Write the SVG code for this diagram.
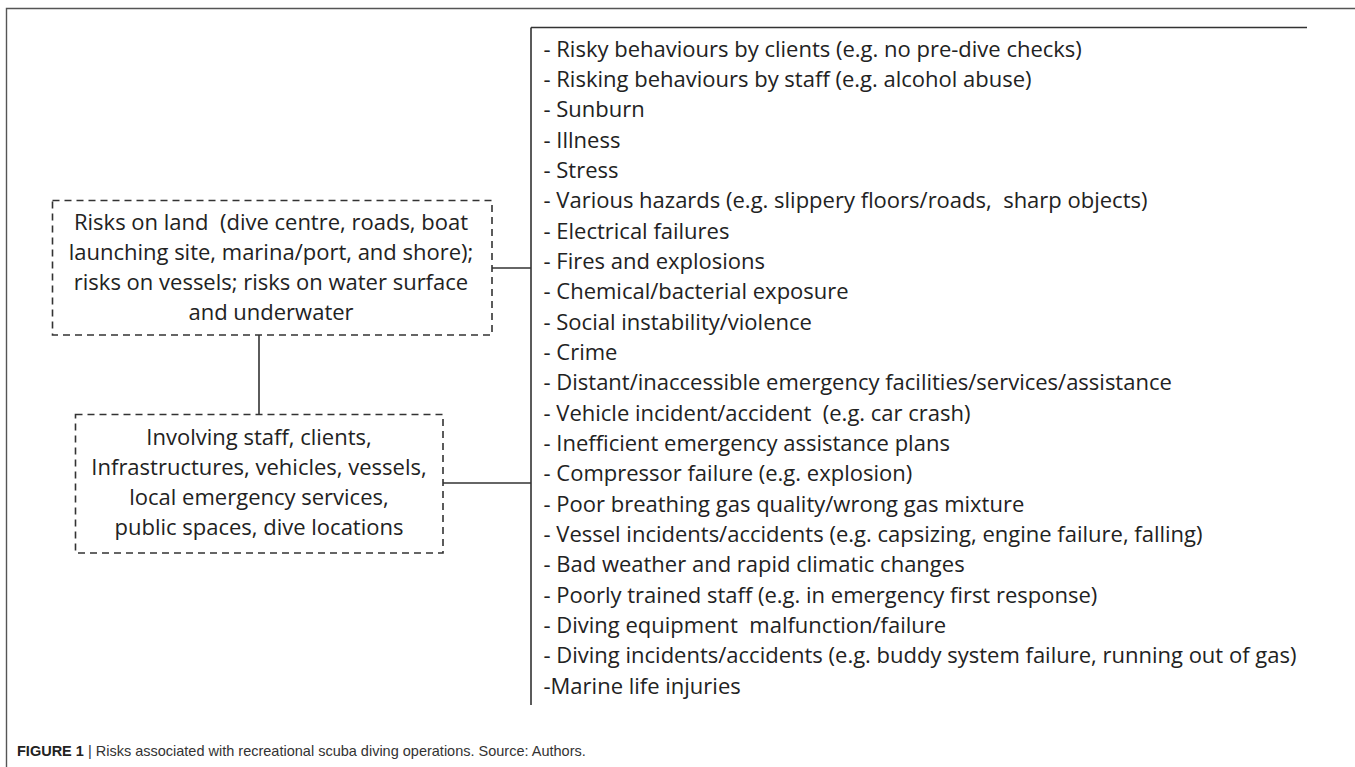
<svg xmlns="http://www.w3.org/2000/svg" width="1355" height="767" viewBox="0 0 1355 767">
  <style>
    .frame { fill: none; stroke: #555; stroke-width: 1.4; }
    .line { fill: none; stroke: #333; stroke-width: 1.6; }
    .box { fill: #fff; stroke: #333; stroke-width: 1.6; stroke-dasharray: 7 5; }
    .t { font-family: "Open Sans", Lato, sans-serif; font-size: 22px; fill: #222; white-space: pre; }
    .c { text-anchor: middle; }
    .cap { font-family: "Liberation Sans Narrow", "Liberation Sans", sans-serif; font-size: 14.5px; fill: #333; }
    .capb { font-weight: bold; fill: #222; }
  </style>
  <rect width="1355" height="767" fill="#fff"/>

  <!-- figure frame (open to the right and bottom) -->
  <path class="frame" d="M6.5 767 V8.5 H1355"/>

  <!-- connectors -->
  <g id="connectors">
    <path class="line" d="M531 27.5 H1307 M531 27.5 V705"/>
    <path class="line" d="M492 268 H531"/>
    <path class="line" d="M443 483 H531"/>
    <path class="line" d="M259 335 V414"/>
  </g>

  <g id="node-land">
    <rect class="box" x="52.5" y="200.5" width="439.5" height="134.5"/>
    <text class="t c" x="271" y="230">Risks on land  (dive centre, roads, boat</text>
    <text class="t c" x="271" y="260">launching site, marina/port, and shore);</text>
    <text class="t c" x="271" y="290">risks on vessels; risks on water surface</text>
    <text class="t c" x="271" y="320">and underwater</text>
  </g>

  <g id="node-involving">
    <rect class="box" x="75.5" y="414.5" width="367.5" height="138.5"/>
    <text class="t c" x="259" y="445">Involving staff, clients,</text>
    <text class="t c" x="259" y="475">Infrastructures, vehicles, vessels,</text>
    <text class="t c" x="259" y="505">local emergency services,</text>
    <text class="t c" x="259" y="535">public spaces, dive locations</text>
  </g>

  <g id="node-risks">
    <text class="t" x="543.5" y="56.5">- Risky behaviours by clients (e.g. no pre-dive checks)</text>
    <text class="t" x="543.5" y="86.8">- Risking behaviours by staff (e.g. alcohol abuse)</text>
    <text class="t" x="543.5" y="117.2">- Sunburn</text>
    <text class="t" x="543.5" y="147.5">- Illness</text>
    <text class="t" x="543.5" y="177.9">- Stress</text>
    <text class="t" x="543.5" y="208.2">- Various hazards (e.g. slippery floors/roads,  sharp objects)</text>
    <text class="t" x="543.5" y="238.5">- Electrical failures</text>
    <text class="t" x="543.5" y="268.9">- Fires and explosions</text>
    <text class="t" x="543.5" y="299.2">- Chemical/bacterial exposure</text>
    <text class="t" x="543.5" y="329.6">- Social instability/violence</text>
    <text class="t" x="543.5" y="359.9">- Crime</text>
    <text class="t" x="543.5" y="390.2">- Distant/inaccessible emergency facilities/services/assistance</text>
    <text class="t" x="543.5" y="420.6">- Vehicle incident/accident  (e.g. car crash)</text>
    <text class="t" x="543.5" y="450.9">- Inefficient emergency assistance plans</text>
    <text class="t" x="543.5" y="481.3">- Compressor failure (e.g. explosion)</text>
    <text class="t" x="543.5" y="511.6">- Poor breathing gas quality/wrong gas mixture</text>
    <text class="t" x="543.5" y="541.9">- Vessel incidents/accidents (e.g. capsizing, engine failure, falling)</text>
    <text class="t" x="543.5" y="572.3">- Bad weather and rapid climatic changes</text>
    <text class="t" x="543.5" y="602.6">- Poorly trained staff (e.g. in emergency first response)</text>
    <text class="t" x="543.5" y="633.0">- Diving equipment  malfunction/failure</text>
    <text class="t" x="543.5" y="663.3">- Diving incidents/accidents (e.g. buddy system failure, running out of gas)</text>
    <text class="t" x="543.5" y="693.6">-Marine life injuries</text>
  </g>

  <!-- caption -->
  <text class="cap" x="17" y="756"><tspan class="capb">FIGURE 1</tspan> | Risks associated with recreational scuba diving operations. Source: Authors.</text>
</svg>
